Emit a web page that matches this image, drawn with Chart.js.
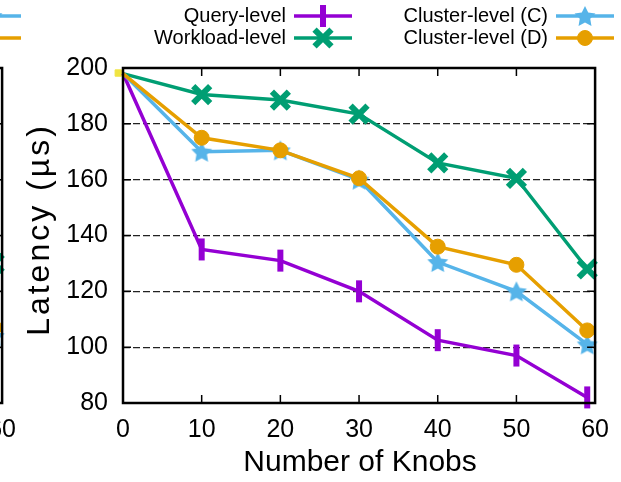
<!DOCTYPE html>
<html>
<head>
<meta charset="utf-8">
<script src="https://cdn.jsdelivr.net/npm/chart.js@4"></script>
<style>
  html, body { margin: 0; padding: 0; background: #fff; }
  #wrap { position: relative; width: 621px; height: 482px; overflow: hidden; background: #fff; }
  #wrap canvas { position: absolute; top: 0; }
  #main { left: 0; }
  #side { left: -593px; }
</style>
</head>
<body>
<div id="wrap">
  <canvas id="side" width="621" height="482"></canvas>
  <canvas id="main" width="621" height="482"></canvas>
</div>
<script>
// knob counts on the x axis and latency (us) per method
var knobs = [0, 10, 20, 30, 40, 50, 59];
var queryLevel = [198, 135, 131, 120, 102.5, 97, 82];
var workloadLevel = [198, 190.5, 188.5, 183.5, 166, 160.5, 128];
var clusterC = [198, 170, 170.5, 160, 130.5, 120, 101];
var clusterD = [198, 175, 170.5, 160.5, 136, 129.5, 106];
var seriesNames = ["Query-level", "Workload-level", "Cluster-level (C)", "Cluster-level (D)"];

// default-config point that sits just left of the y axis
var baseKnob = [-0.6];
var baseLatency = [198.2];

// neighbouring panel: only its last points reach into view
var sideKnobs = [59];
var sideWorkload = [130];
var sideClusterC = [104];
var sideClusterD = [107];

var xTitle = "Number of Knobs";
var yTitle = "Latency (\u00b5s)";

var FONT = '"Liberation Sans", Arial, sans-serif';
var purple = "#9400d3", green = "#009e73", blue = "#56b4e9", orange = "#e69f00", yellow = "#f0e442";

function pts(xs, ys) {
  return ys.map(function (y, i) { return { x: xs[i], y: y }; });
}

// filled five-point star used as the point style for Cluster-level (C)
function starImage(color, r) {
  var c = document.createElement("canvas");
  c.width = c.height = Math.ceil(r * 2 + 2);
  var g = c.getContext("2d");
  var cx = c.width / 2, cy = c.height / 2 + 1;
  g.beginPath();
  for (var i = 0; i < 10; i++) {
    var rr = i % 2 === 0 ? r : r * 0.5;
    var a = -Math.PI / 2 + i * Math.PI / 5;
    g.lineTo(cx + rr * Math.cos(a), cy + rr * Math.sin(a));
  }
  g.closePath();
  g.fillStyle = color;
  g.fill();
  return c;
}
var star = starImage(blue, 11);

var legendSpots = [
  { x: 286, y: 16 }, { x: 286, y: 38 },
  { x: 548, y: 16 }, { x: 548, y: 38 }
];

// box around the plot plus gnuplot-style inward ticks
var framePlugin = {
  id: "frame",
  afterDraw: function (chart) {
    var ctx = chart.ctx, a = chart.chartArea;
    var xs = chart.scales.x, ys = chart.scales.y;
    ctx.save();
    ctx.strokeStyle = "#000";
    ctx.lineWidth = 1.5;
    ctx.setLineDash([]);
    ctx.beginPath();
    xs.ticks.forEach(function (t) {
      var px = xs.getPixelForValue(t.value);
      ctx.moveTo(px, a.bottom); ctx.lineTo(px, a.bottom - 8);
      ctx.moveTo(px, a.top); ctx.lineTo(px, a.top + 8);
    });
    ys.ticks.forEach(function (t) {
      var py = ys.getPixelForValue(t.value);
      ctx.moveTo(a.left, py); ctx.lineTo(a.left + 8, py);
      ctx.moveTo(a.right, py); ctx.lineTo(a.right - 8, py);
    });
    ctx.stroke();
    ctx.lineWidth = 2.5;
    ctx.strokeRect(a.left, a.top, a.right - a.left, a.bottom - a.top);
    ctx.restore();
  }
};

// axis titles, the y one slightly spaced out
var titlePlugin = {
  id: "titles",
  afterDraw: function (chart) {
    var ctx = chart.ctx, a = chart.chartArea;
    ctx.save();
    ctx.fillStyle = "#000";
    ctx.font = "30px " + FONT;
    ctx.textAlign = "center";
    ctx.textBaseline = "middle";
    ctx.fillText(xTitle, (a.left + a.right) / 2 + 1, 463);
    ctx.translate(40, (a.top + a.bottom) / 2 - 4);
    ctx.rotate(-Math.PI / 2);
    ctx.font = "32px " + FONT;
    ctx.letterSpacing = "3px";
    ctx.fillText(yTitle, 2, 0);
    ctx.restore();
  }
};

// key drawn as text followed by a line sample with the marker
var keyPlugin = {
  id: "key",
  afterDraw: function (chart) {
    var ctx = chart.ctx;
    ctx.save();
    chart.data.datasets.forEach(function (ds, i) {
      if (!ds.label) return;
      var s = legendSpots[i];
      ctx.font = "20px " + FONT;
      ctx.fillStyle = "#000";
      ctx.textAlign = "right";
      ctx.textBaseline = "middle";
      ctx.fillText(ds.label, s.x, s.y);
      var x0 = s.x + 8, x1 = s.x + 66;
      ctx.strokeStyle = ds.borderColor;
      ctx.lineWidth = ds.borderWidth;
      ctx.beginPath();
      ctx.moveTo(x0, s.y); ctx.lineTo(x1, s.y);
      ctx.stroke();
      ctx.fillStyle = ds.pointBackgroundColor;
      ctx.strokeStyle = ds.pointBorderColor;
      ctx.lineWidth = ds.pointBorderWidth;
      Chart.helpers.drawPoint(ctx, {
        pointStyle: ds.pointStyle, radius: ds.markSize, rotation: ds.pointRotation,
        borderWidth: ds.pointBorderWidth
      }, (x0 + x1) / 2, s.y);
    });
    ctx.restore();
  }
};

function series(label, data, color, style, radius, bw, order, rot) {
  return {
    label: label,
    data: data,
    borderColor: color,
    backgroundColor: color,
    borderWidth: 3.5,
    pointStyle: style,
    markSize: radius,
    // no marker where the curves start at 0 knobs
    pointRadius: function (c) { return c.raw && c.raw.x === 0 ? 0 : radius; },
    pointHoverRadius: function (c) { return c.raw && c.raw.x === 0 ? 0 : radius; },
    pointRotation: rot || 0,
    pointBorderWidth: bw,
    pointBackgroundColor: color,
    pointBorderColor: color,
    order: order,
    clip: false
  };
}

function makeChart(id, datasets) {
  return new Chart(document.getElementById(id), {
    type: "line",
    data: { datasets: datasets },
    plugins: [framePlugin, titlePlugin, keyPlugin],
    options: {
      responsive: false,
      animation: false,
      devicePixelRatio: 1,
      layout: { padding: { top: 68, right: 21, left: 0, bottom: 0 } },
      plugins: { legend: { display: false }, tooltip: { enabled: false } },
      scales: {
        x: {
          type: "linear",
          min: 0, max: 60,
          afterFit: function (s) { s.height = 79; },
          ticks: { stepSize: 10, color: "#000", font: { family: FONT, size: 25 }, padding: 12 },
          grid: { display: false, drawTicks: false },
          border: { display: false }
        },
        y: {
          min: 80, max: 200,
          afterFit: function (s) { s.width = 123; },
          ticks: { stepSize: 20, color: "#000", font: { family: FONT, size: 25 }, padding: 15 },
          grid: { color: "#222", lineWidth: 1.2, drawTicks: false },
          border: { display: false, dash: [7, 3] }
        }
      }
    }
  });
}

makeChart("side", [
  series(seriesNames[0], [], purple, "line", 11, 6, 4, 90),
  series(seriesNames[1], pts(sideKnobs, sideWorkload), green, "crossRot", 12, 6, 3),
  series(seriesNames[2], pts(sideKnobs, sideClusterC), blue, star, 11, 1, 2),
  series(seriesNames[3], pts(sideKnobs, sideClusterD), orange, "circle", 7.5, 1, 1)
]);

makeChart("main", [
  series(seriesNames[0], pts(knobs, queryLevel), purple, "line", 11, 6, 4, 90),
  series(seriesNames[1], pts(knobs, workloadLevel), green, "crossRot", 12, 6, 3),
  series(seriesNames[2], pts(knobs, clusterC), blue, star, 11, 1, 2),
  series(seriesNames[3], pts(knobs, clusterD), orange, "circle", 7.5, 1, 1),
  series("", pts(baseKnob, baseLatency), yellow, "rect", 4.5, 1, 5)
]);
</script>
</body>
</html>
